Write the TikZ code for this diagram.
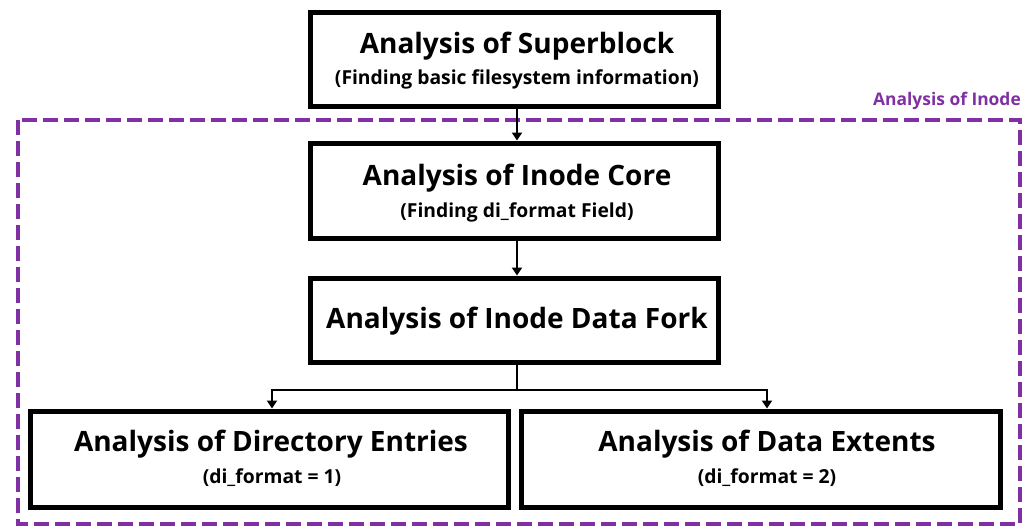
\documentclass[tikz,border=0pt]{standalone}
\usepackage{fontspec}
\setmainfont{Open Sans}
\usetikzlibrary{arrows.meta}
\definecolor{inodepurple}{RGB}{128,48,162}
\begin{document}
\begin{tikzpicture}[x=1pt,y=-1pt,
  box/.style={draw=black,line width=5pt,fill=white,inner sep=0pt,align=center},
  conn/.style={draw=black,line width=2pt,-{Triangle[length=8pt,width=10pt]}},
  title/.style={font=\bfseries\fontsize{28}{33}\selectfont},
  sub/.style={font=\bfseries\fontsize{19.3}{23}\selectfont}]
\useasboundingbox (0,0) rectangle (1035,528);
% dashed region
\draw[inodepurple,line width=4.5pt,dash pattern=on 15pt off 6pt] (18,120) rectangle (1020,524);
\node[anchor=south east,inner sep=0pt,text=inodepurple,font=\bfseries\fontsize{17.4}{20}\selectfont] (lbl) at (1021,110) {Analysis of Inode};
% boxes
\node[box,minimum width=408pt,minimum height=94pt] (sb) at (514,59) {};
\node[title] (sbt) at (517,46) {Analysis of Superblock};
\node[sub] (sbs) at (517,79) {(Finding basic filesystem information)};
\node[box,minimum width=408pt,minimum height=95pt] (core) at (514,190.5) {};
\node[title] (coret) at (517,178) {Analysis of Inode Core};
\node[sub] (cores) at (517,212) {(Finding di\_format Field)};
\node[box,minimum width=408pt,minimum height=84pt] (fork) at (514,320) {};
\node[title] (forkt) at (517,321) {Analysis of Inode Data Fork};
\node[box,minimum width=478pt,minimum height=96pt] (dir) at (269,459) {};
\node[title] (dirt) at (271,444) {Analysis of Directory Entries};
\node[sub] (dirs) at (272,478) {(di\_format = 1)};
\node[box,minimum width=479pt,minimum height=96pt] (ext) at (760.5,459) {};
\node[title] (extt) at (767,444) {Analysis of Data Extents};
\node[sub] (exts) at (767,478) {(di\_format = 2)};
% connectors
\coordinate (split) at (517,390);
\draw[conn] (sb.south -| split) -- (core.north -| split);
\draw[conn] (core.south -| split) -- (fork.north -| split);
\draw[line width=2pt] (fork.south -| split) -- (split);
\draw[conn] (split) -| ([xshift=3pt]dir.north);
\draw[conn] (split) -| ([xshift=6.5pt]ext.north);
\end{tikzpicture}
\end{document}
